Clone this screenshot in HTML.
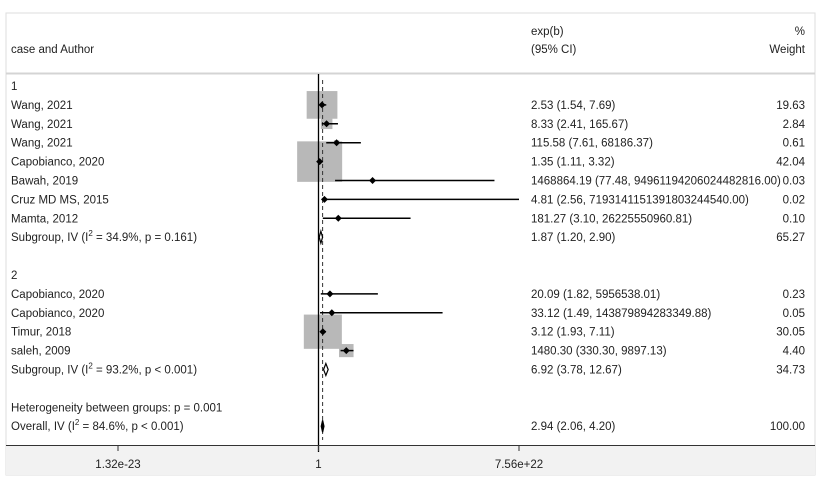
<!DOCTYPE html>
<html><head><meta charset="utf-8"><style>
body{margin:0;background:#fff;}
svg text{font-family:"Liberation Sans",Arial,sans-serif;font-size:11.5px;fill:#222;}
</style></head><body>
<svg id="chart" width="829" height="483" xmlns="http://www.w3.org/2000/svg">
<rect x="6" y="13" width="809" height="462" fill="#fff" stroke="#ddd" stroke-width="1"/>
<rect x="6" y="446" width="809" height="29" fill="#f2f2f2"/>
<line x1="6" y1="73.5" x2="815" y2="73.5" stroke="#d4d4d4" stroke-width="2"/>
<text x="11" y="53">case and Author</text>
<text x="531" y="35">exp(b)</text>
<text x="531" y="53">(95% CI)</text>
<text x="805" y="35" text-anchor="end">%</text>
<text x="805" y="53" text-anchor="end">Weight</text>
<g id="marks"></g>
<line x1="6" y1="445.5" x2="815" y2="445.5" stroke="#333" stroke-width="1"/>
<g id="axis"></g>
</svg>
<script>
const labels=["Wang, 2021","Wang, 2021","Wang, 2021","Capobianco, 2020","Bawah, 2019","Cruz MD MS, 2015","Mamta, 2012","Capobianco, 2020","Capobianco, 2020","Timur, 2018","saleh, 2009"];
const estimates=[2.53,8.33,115.58,1.35,1468864.19,4.81,181.27,20.09,33.12,3.12,1480.30];
const lowers=[1.54,2.41,7.61,1.11,77.48,2.56,3.10,1.82,1.49,1.93,330.30];
const uppersDrawn=[7.69,165.67,68186.37,3.32,1.2e20,7.56e22,3.2e10,5956538.01,1.4388e14,7.11,9897.13];
const ciText=["2.53 (1.54, 7.69)","8.33 (2.41, 165.67)","115.58 (7.61, 68186.37)","1.35 (1.11, 3.32)","1468864.19 (77.48, 94961194206024482816.00)","4.81 (2.56, 7193141151391803244540.00)","181.27 (3.10, 26225550960.81)","20.09 (1.82, 5956538.01)","33.12 (1.49, 143879894283349.88)","3.12 (1.93, 7.11)","1480.30 (330.30, 9897.13)"];
const weights=[19.63,2.84,0.61,42.04,0.03,0.02,0.10,0.23,0.05,30.05,4.40];
const rowIndex=[1,2,3,4,5,6,7,11,12,13,14];
const subLabels=["Subgroup, IV (I","Subgroup, IV (I","Overall, IV (I"];
const subI2=["34.9%, p = 0.161)","93.2%, p < 0.001)","84.6%, p < 0.001)"];
const subEst=[1.87,6.92,2.94];
const subLow=[1.20,3.78,2.06];
const subHigh=[2.90,12.67,4.20];
const subText=["1.87 (1.20, 2.90)","6.92 (3.78, 12.67)","2.94 (2.06, 4.20)"];
const subWeight=["65.27","34.73","100.00"];
const subRow=[8,15,18];
const tickValues=[1.32e-23,1,7.56e22];
const tickLabels=["1.32e-23","1","7.56e+22"];
const NS="http://www.w3.org/2000/svg";
const xMin=1.32e-23,xMax=7.56e22,px0=118,px1=519;
function X(v){return px0+(Math.log(v)-Math.log(xMin))/(Math.log(xMax)-Math.log(xMin))*(px1-px0);}
function Y(r){return 86+(r)*18.9;}
function mk(t,a,p){const e=document.createElementNS(NS,t);for(const k in a)e.setAttribute(k,a[k]);(p||document.getElementById('marks')).appendChild(e);return e;}
const g=document.getElementById('marks');
// group labels
let t=mk('text',{x:11,y:Y(0)+4});


t.textContent="1";
t=mk('text',{x:11,y:Y(10)+4});


t.textContent="2";
t=mk('text',{x:11,y:Y(17)+4});


t.textContent="Heterogeneity between groups: p = 0.001";
// boxes first
for(let i=0;i<labels.length;i++){
  const w=6.94*Math.sqrt(weights[i]),h=w*0.9,cx=X(estimates[i]),cy=Y(rowIndex[i]);
  const b=mk('rect',{x:cx-w/2,y:cy-h/2,width:w,height:h,fill:'#b8b8b8'});
  
  
}
// reference lines
let l=mk('line',{x1:318.5,y1:74,x2:318.5,y2:452,stroke:'#000','stroke-width':1.3});


l=mk('line',{x1:X(subEst[2]),y1:80,x2:X(subEst[2]),y2:440,stroke:'#333','stroke-width':1,'stroke-dasharray':'4,3'});


for(let i=0;i<labels.length;i++){
  const cy=Y(rowIndex[i]),cx=X(estimates[i]);
  const ci=mk('line',{x1:X(lowers[i]),y1:cy,x2:Math.min(X(uppersDrawn[i]),px1+1),y2:cy,stroke:'#000','stroke-width':1.5});
  
  
  const d=mk('polygon',{points:`${cx-3.5},${cy} ${cx},${cy-3.5} ${cx+3.5},${cy} ${cx},${cy+3.5}`,fill:'#000'});
  
  
  const a=mk('text',{x:11,y:cy+4});
  
  
  a.textContent=labels[i];
  const c=mk('text',{x:531,y:cy+4});
  
  
  c.textContent=ciText[i];
  const wt=mk('text',{x:805,y:cy+4,'text-anchor':'end'});
  
  
  wt.textContent=weights[i].toFixed(2);
}
for(let j=0;j<3;j++){
  const cy=Y(subRow[j]),a=X(subLow[j]),b=X(subHigh[j]),c=X(subEst[j]);
  const d=mk('polygon',{points:`${a},${cy} ${c},${cy-6} ${b},${cy} ${c},${cy+6}`,fill:j==2?'#000':'#fff',stroke:'#000','stroke-width':1.2});
  
  
  const s=mk('text',{x:11,y:cy+4});
  
  
  s.textContent=subLabels[j];
  const sup=mk('tspan',{dy:-5,'font-size':'8px'},s);sup.textContent="2";
  const rest=mk('tspan',{dy:5},s);rest.textContent=" = "+subI2[j];
  const c2=mk('text',{x:531,y:cy+4});
  
  
  c2.textContent=subText[j];
  const w2=mk('text',{x:805,y:cy+4,'text-anchor':'end'});
  
  
  w2.textContent=subWeight[j];
}
const ax=document.getElementById('axis');
for(let k=0;k<tickValues.length;k++){
  const x=X(tickValues[k]);
  const tk=mk('line',{x1:x,y1:445,x2:x,y2:451,stroke:'#333'},ax);
  
  
  const tl=mk('text',{x:x,y:468,'text-anchor':'middle'},ax);
  
  
  tl.textContent=tickLabels[k];
}
</script>
</body></html>
